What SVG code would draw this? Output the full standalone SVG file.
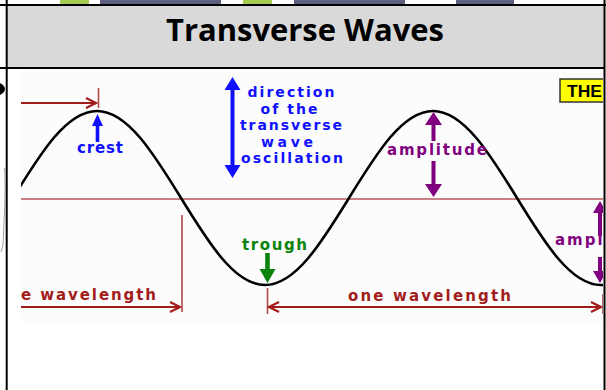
<svg xmlns="http://www.w3.org/2000/svg" width="606" height="390" viewBox="0 0 606 390">
<style>
.lbl{font-family:"DejaVu Sans","Liberation Sans",sans-serif;font-weight:bold;font-size:15px}
.blue{fill:#1010ff}
.mar{fill:#a31c1c}
.pur{fill:#800080}
.grn{fill:#0a840a}
.dim{stroke:#a31c1c;stroke-width:2;fill:none}
.tick{stroke:#b04848;stroke-width:1.6}
.chev{stroke:#a31c1c;stroke-width:2.2;fill:none;stroke-linejoin:miter}
.frame{stroke:#000;stroke-width:2}
</style>
<defs>
<clipPath id="pic"><rect x="21" y="69" width="582" height="254"/></clipPath>
</defs>
<rect width="606" height="390" fill="#fff"/>
<g id="topstrip">
<rect x="60" y="0" width="29" height="5" fill="#a8cc52"/>
<rect x="100" y="0" width="121" height="5" fill="#5e607f"/>
<rect x="243" y="0" width="29" height="5" fill="#a8cc52"/>
<rect x="294" y="0" width="111" height="5" fill="#5e607f"/>
<rect x="456" y="0" width="58" height="5" fill="#5e607f"/>
</g>
<g id="header">
<rect x="7" y="5" width="597" height="63" fill="#d9d9d9"/>
<text x="305" y="40.5" text-anchor="middle" font-family="'Open Sans','Noto Sans',sans-serif" font-weight="bold" font-size="30" textLength="278" lengthAdjust="spacingAndGlyphs" fill="#000">Transverse Waves</text>
</g>
<g id="picture">
<rect x="21" y="69" width="582" height="254" fill="#fbfcfb"/>
<g clip-path="url(#pic)">
<line x1="21" y1="199" x2="603" y2="199" stroke="#b55a5a" stroke-width="1.5"/>
<path id="wave" d="M13,198 C40.4,153.4 66.6,111 97,111 C127.4,111 153.6,153.4 181,198 C208.4,242.6 234.6,285 265,285 C295.4,285 321.6,242.6 349,198 C376.4,153.4 402.6,111 433,111 C463.4,111 489.6,153.4 517,198 C544.4,242.6 570.6,285 601,285 C631.4,285 657.6,242.6 685,198" fill="none" stroke="#000" stroke-width="2.6"/>
</g>
</g>
<g id="connectors" clip-path="url(#pic)">
<g id="wl-top">
<line class="dim" x1="21" y1="103" x2="96" y2="103"/>
<path class="chev" d="M86,98 L96,103 L86,108"/>
<line class="tick" x1="98.5" y1="88" x2="98.5" y2="108"/>
</g>
<g id="wl-left">
<line class="dim" x1="21" y1="307" x2="180" y2="307"/>
<path class="chev" d="M170,302 L180,307 L170,312"/>
<line class="tick" x1="182" y1="215" x2="182" y2="312"/>
</g>
<g id="wl-one">
<line class="tick" x1="267.5" y1="288" x2="267.5" y2="314"/>
<line class="dim" x1="269" y1="307" x2="601" y2="307"/>
<path class="chev" d="M279,302 L269,307 L279,312"/>
<path class="chev" d="M591,302 L601,307 L591,312"/>
<line class="tick" x1="603" y1="294" x2="603" y2="314"/>
</g>
<g id="crest-arrow">
<path class="blue" d="M97.5,114 L103,126 L99.3,126 L99.3,142 L95.7,142 L95.7,126 L92,126 Z"/>
</g>
<g id="oscillation-arrow">
<path class="blue" d="M232.5,77 L240.5,90 L234.5,90 L234.5,165 L240.5,165 L232.5,178 L224.5,165 L230.5,165 L230.5,90 L224.5,90 Z"/>
</g>
<g id="amplitude-arrow">
<path class="pur" d="M433.5,112 L442,125 L435.5,125 L435.5,141 L431.5,141 L431.5,125 L425,125 Z"/>
<path class="pur" d="M433.5,197 L442,184 L435.5,184 L435.5,161 L431.5,161 L431.5,184 L425,184 Z"/>
</g>
<g id="amplitude-arrow-right">
<path class="pur" d="M600,201 L607,213 L602,213 L602,236 L598,236 L598,213 L593,213 Z"/>
<path class="pur" d="M600,283 L607,271 L602,271 L602,257 L598,257 L598,271 L593,271 Z"/>
</g>
<g id="trough-arrow">
<path class="grn" d="M267.5,283 L275.5,269 L269.8,269 L269.8,253 L265.2,253 L265.2,269 L259.5,269 Z"/>
</g>
</g>
<g id="labels" clip-path="url(#pic)">
<text id="crest" class="lbl blue" x="77" y="153" textLength="46" lengthAdjust="spacing">crest</text>
<g id="direction" class="lbl blue" text-anchor="middle" style="font-size:14px">
<text x="291" y="97" textLength="87" lengthAdjust="spacing">direction</text>
<text x="289" y="113.5" textLength="57" lengthAdjust="spacing">of the</text>
<text x="291" y="130" textLength="102" lengthAdjust="spacing">transverse</text>
<text x="287" y="146.5" textLength="52" lengthAdjust="spacing">wave</text>
<text x="292" y="163" textLength="102" lengthAdjust="spacing">oscillation</text>
</g>
<text id="amplitude" class="lbl pur" x="387" y="155" textLength="100" lengthAdjust="spacing">amplitude</text>
<text id="ampl" class="lbl pur" x="555" y="245" letter-spacing="2">ampl</text>
<text id="trough" class="lbl grn" x="242" y="250" textLength="65" lengthAdjust="spacing">trough</text>
<text id="e-wavelength" class="lbl mar" x="21" y="300" textLength="135" lengthAdjust="spacing">e wavelength</text>
<text id="one-wavelength" class="lbl mar" x="348" y="301" textLength="163" lengthAdjust="spacing">one wavelength</text>
<g id="the-box">
<rect x="560" y="79" width="50" height="23" fill="#ffff00" stroke="#333" stroke-width="1.5"/>
<text x="567" y="97" font-family="'Liberation Sans',Arial,sans-serif" font-weight="bold" font-size="16" textLength="35" lengthAdjust="spacingAndGlyphs" fill="#000">THE</text>
</g>
</g>
<g id="frame">
<line class="frame" x1="0" y1="5" x2="606" y2="5"/>
<line class="frame" x1="0" y1="68" x2="604" y2="68"/>
<line class="frame" x1="6.7" y1="0" x2="6.7" y2="390"/>
<line class="frame" x1="604.5" y1="0" x2="604.5" y2="390"/>
<path d="M0,83 L3,85 Q7,89 3,93 L0,95 Z" fill="#000"/>
<path d="M4,168 C6,172 5,205 3,245 L1,252" fill="none" stroke="#888" stroke-width="0.8"/>
</g>
</svg>
